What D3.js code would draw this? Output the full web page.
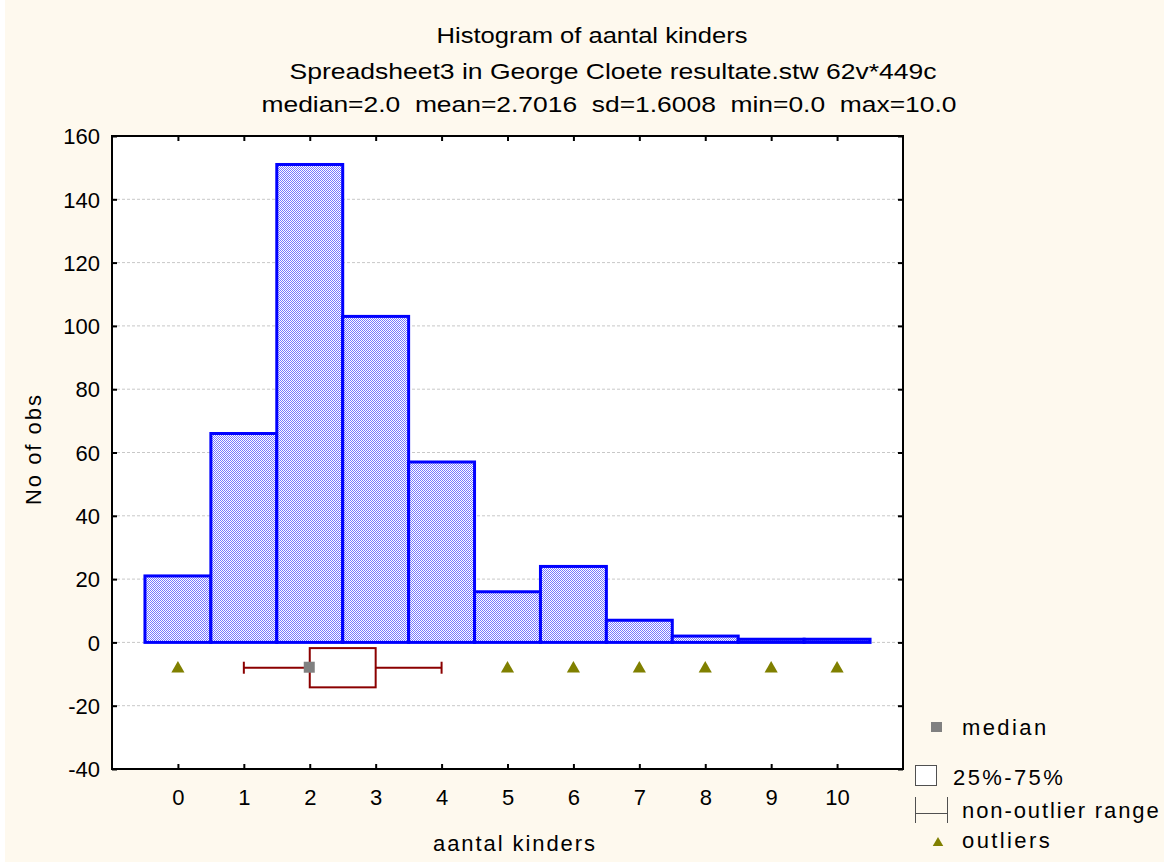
<!DOCTYPE html>
<html>
<head>
<meta charset="utf-8">
<script src="https://cdn.jsdelivr.net/npm/d3@7"></script>
<style>
  body { margin: 0; background: #fff; }
  text { font-family: "Liberation Sans", Arial, sans-serif; fill: #000; }
</style>
</head>
<body>
<div id="chart"></div>
<script>
// histogram data: number of children
const categories = [0, 1, 2, 3, 4, 5, 6, 7, 8, 9, 10];
const counts = [21, 66, 151, 103, 57, 16, 24, 7, 2, 1, 1];
const yTicks = [-40, -20, 0, 20, 40, 60, 80, 100, 120, 140, 160];
const boxStats = { min: 1, q1: 2, median: 2, q3: 3, max: 4 };
const outliers = [0, 5, 6, 7, 8, 9, 10];
const titleLines = [
    "Histogram of aantal kinders",
    "Spreadsheet3 in George Cloete resultate.stw 62v*449c",
    "median=2.0  mean=2.7016  sd=1.6008  min=0.0  max=10.0"
];
const legendItems = ["median", "25%-75%", "non-outlier range", "outliers"];

const W = 1164, H = 865;
const plot = { left: 112, right: 903, top: 136, bottom: 769 };

const svg = d3.select("#chart").append("svg")
    .attr("width", W).attr("height", H);

svg.append("rect").attr("x", 5).attr("y", 0)
    .attr("width", W - 5).attr("height", 862).attr("fill", "#fef9ee");
svg.append("rect")
    .attr("x", plot.left).attr("y", plot.top)
    .attr("width", plot.right - plot.left).attr("height", plot.bottom - plot.top)
    .attr("fill", "#fff");

const defs = svg.append("defs");
const pat = defs.append("pattern").attr("id", "checker")
    .attr("width", 2).attr("height", 2).attr("patternUnits", "userSpaceOnUse");
pat.append("rect").attr("width", 2).attr("height", 2).attr("fill", "#ffffff");
pat.append("rect").attr("width", 1).attr("height", 1).attr("fill", "#7878ff");
pat.append("rect").attr("x", 1).attr("y", 1).attr("width", 1).attr("height", 1).attr("fill", "#7878ff");

const x = d3.scaleLinear().domain([-1, 11]).range([plot.left, plot.right]);
const y = d3.scaleLinear().domain([-40, 160]).range([plot.bottom, plot.top]);

// grid
svg.append("g").selectAll("line")
    .data(yTicks.filter(d => d > -40 && d < 160))
    .enter().append("line")
    .attr("x1", plot.left).attr("x2", plot.right)
    .attr("y1", d => y(d)).attr("y2", d => y(d))
    .attr("stroke", "#c8c8c8").attr("stroke-dasharray", "3,2").attr("stroke-width", 1);

// bars
svg.append("g").selectAll("rect")
    .data(categories)
    .enter().append("rect")
    .attr("x", d => x(d - 0.5))
    .attr("y", (d, i) => y(counts[i]))
    .attr("width", x(1) - x(0))
    .attr("height", (d, i) => y(0) - y(counts[i]))
    .attr("fill", "url(#checker)")
    .attr("stroke", "#0000ff")
    .attr("stroke-width", 3);

// box plot
const boxY = -8, boxHalf = 6.2;
const bp = svg.append("g").attr("stroke", "#8b0000").attr("stroke-width", 2).attr("fill", "none");
bp.append("line").attr("x1", x(boxStats.min)).attr("x2", x(boxStats.q1))
    .attr("y1", y(boxY)).attr("y2", y(boxY));
bp.append("line").attr("x1", x(boxStats.q3)).attr("x2", x(boxStats.max))
    .attr("y1", y(boxY)).attr("y2", y(boxY));
[boxStats.min, boxStats.max].forEach(v => {
    bp.append("line").attr("x1", x(v)).attr("x2", x(v))
        .attr("y1", y(boxY) - 6).attr("y2", y(boxY) + 6);
});
bp.append("rect").attr("x", x(boxStats.q1)).attr("y", y(boxY + boxHalf))
    .attr("width", x(boxStats.q3) - x(boxStats.q1))
    .attr("height", y(boxY - boxHalf) - y(boxY + boxHalf));
svg.append("rect").attr("x", x(boxStats.median) - 6).attr("y", y(boxY) - 6)
    .attr("width", 11).attr("height", 11).attr("fill", "#808080");

const tri = d3.symbol().type(d3.symbolTriangle).size(75);
svg.append("g").selectAll("path")
    .data(outliers)
    .enter().append("path")
    .attr("d", tri)
    .attr("transform", d => `translate(${x(d)},${y(boxY) + 1})`)
    .attr("fill", "#808000");

// axes
const fontSize = "22px";
const left = svg.append("g").attr("transform", `translate(${plot.left},0)`)
    .call(d3.axisLeft(y).tickValues(yTicks).tickSize(-5).tickPadding(12).tickFormat(d => String(d)));
const bottom = svg.append("g").attr("transform", `translate(0,${plot.bottom})`)
    .call(d3.axisBottom(x).tickValues(categories).tickSize(-5).tickPadding(20).tickFormat(d => String(d)));
svg.append("g").attr("transform", `translate(${plot.right},0)`)
    .call(d3.axisRight(y).tickValues(yTicks).tickSize(-5).tickFormat(""));
svg.append("g").attr("transform", `translate(0,${plot.top})`)
    .call(d3.axisTop(x).tickValues(categories).tickSize(-5).tickFormat(""));

svg.selectAll(".domain").remove();
svg.selectAll(".tick line").attr("stroke", "#000").attr("stroke-width", 2);
left.selectAll("text").style("font-size", fontSize).attr("dy", "0.35em");
bottom.selectAll("text").style("font-size", fontSize);
svg.selectAll(".tick text").attr("fill", "#000").attr("font-family", "Liberation Sans, Arial, sans-serif");

svg.append("rect")
    .attr("x", plot.left).attr("y", plot.top)
    .attr("width", plot.right - plot.left).attr("height", plot.bottom - plot.top)
    .attr("fill", "none").attr("stroke", "#000").attr("stroke-width", 2);

// titles
const titlePos = [[592, 43, 311], [613, 79, 647], [609, 112, 695]];
svg.selectAll(".title").data(titleLines).enter().append("text")
    .attr("class", "title")
    .attr("x", (d, i) => titlePos[i][0] - titlePos[i][2] / 2)
    .attr("y", (d, i) => titlePos[i][1])
    .attr("textLength", (d, i) => titlePos[i][2])
    .attr("lengthAdjust", "spacingAndGlyphs")
    .style("font-size", fontSize)
    .style("white-space", "pre")
    .text(d => d);

svg.append("text").attr("x", 433).attr("y", 851)
    .attr("textLength", 162).attr("lengthAdjust", "spacing")
    .style("font-size", fontSize).text("aantal kinders");
svg.append("text")
    .attr("transform", "translate(41,505) rotate(-90)")
    .attr("textLength", 110).attr("lengthAdjust", "spacing")
    .style("font-size", fontSize).text("No of obs");

// legend
const lg = svg.append("g");
const legStroke = "#505050";
lg.append("rect").attr("x", 931).attr("y", 722).attr("width", 11).attr("height", 10).attr("fill", "#808080");
lg.append("rect").attr("x", 915.5).attr("y", 765.5).attr("width", 21).attr("height", 20)
    .attr("fill", "#fff").attr("stroke", legStroke).attr("stroke-width", 1);
lg.append("line").attr("x1", 915.5).attr("x2", 915.5).attr("y1", 797).attr("y2", 823).attr("stroke", legStroke);
lg.append("line").attr("x1", 947.5).attr("x2", 947.5).attr("y1", 797).attr("y2", 823).attr("stroke", legStroke);
lg.append("line").attr("x1", 915.5).attr("x2", 947.5).attr("y1", 813.5).attr("y2", 813.5).attr("stroke", legStroke);
lg.append("path").attr("d", d3.symbol().type(d3.symbolTriangle).size(48))
    .attr("transform", "translate(938,843)").attr("fill", "#808000");
const legendPos = [[962, 735], [953, 785], [962, 818], [962, 848]];
const legendSpacing = ["2.4px", "2.4px", "1.9px", "2.4px"];
lg.selectAll("text.leg").data(legendItems).enter().append("text")
    .attr("class", "leg")
    .attr("x", (d, i) => legendPos[i][0]).attr("y", (d, i) => legendPos[i][1])
    .style("font-size", fontSize).style("letter-spacing", (d, i) => legendSpacing[i])
    .text(d => d);
</script>
</body>
</html>
